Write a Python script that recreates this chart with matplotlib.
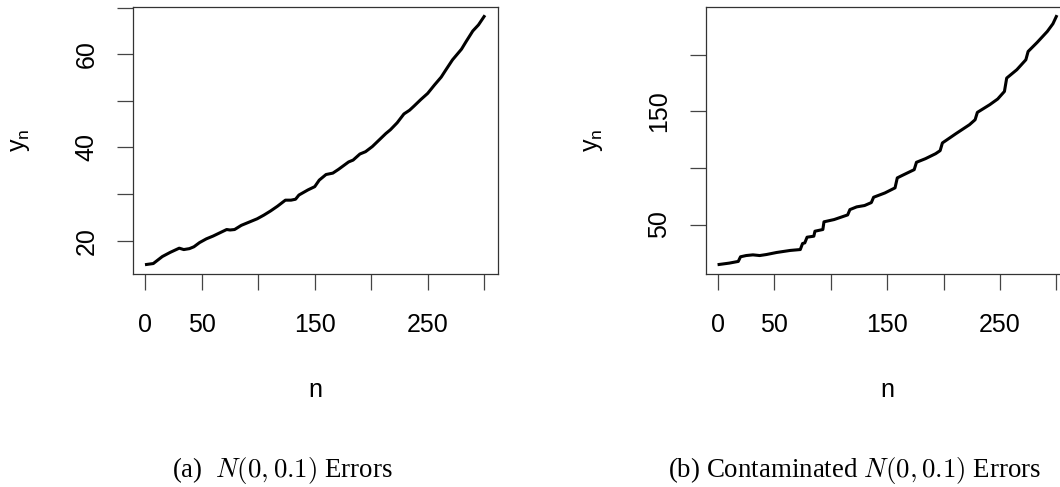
import matplotlib
matplotlib.use("Agg")
import matplotlib.pyplot as plt
import numpy as np

# ---- data ----
n_a = [1, 7, 15, 22, 30, 34, 39, 43, 48, 54, 60, 66, 72, 75, 79, 85, 93, 99, 105,
       111, 117, 124, 129, 133, 136, 144, 150, 154, 160, 166, 171, 180, 184, 190,
       195, 201, 207, 213, 217, 223, 229, 234, 238, 244, 250, 256, 262, 266, 272,
       280, 284, 290, 295, 300]
y_a = [14.9, 15.1, 16.6, 17.5, 18.4, 18.1, 18.3, 18.7, 19.6, 20.4, 21.0, 21.7, 22.4,
       22.3, 22.4, 23.3, 24.1, 24.7, 25.5, 26.4, 27.4, 28.7, 28.7, 28.9, 29.8, 30.9,
       31.6, 33.0, 34.2, 34.5, 35.3, 36.9, 37.3, 38.6, 39.1, 40.2, 41.6, 43.0, 43.8,
       45.3, 47.2, 48.0, 48.9, 50.3, 51.6, 53.4, 55.1, 56.6, 58.8, 61.1, 62.7, 65.0,
       66.3, 68.1]

n_b = [1, 10, 18, 20, 25, 31, 37, 43, 52, 64, 73, 75, 77, 79, 85, 86, 93, 94, 103,
       115, 117, 123, 130, 136, 138, 148, 157, 159, 163, 174, 176, 184, 193, 197,
       199, 211, 223, 228, 230, 241, 248, 254, 256, 265, 273, 275, 283, 292, 297, 300]
y_b = [14.7, 15.9, 17.4, 21.5, 22.6, 23.2, 22.6, 23.5, 25.3, 27.1, 27.9, 33.2, 33.8,
       38.8, 39.7, 44.1, 45.6, 52.4, 54.4, 58.5, 63.2, 65.6, 66.8, 69.4, 74.1, 77.9,
       82.4, 91.2, 93.2, 98.5, 105.0, 108.2, 112.6, 115.3, 122.1, 130.3, 138.2,
       142.6, 149.1, 155.9, 160.9, 167.6, 179.4, 186.8, 195.6, 202.9, 210.9, 220.6,
       227.4, 233.8]

x_ticks = [0, 50, 100, 150, 200, 250, 300]
x_ticklabels = ["0", "50", "", "150", "", "250", ""]
ya_ticks = [20, 30, 40, 50, 60, 70]
ya_ticklabels = ["20", "", "40", "", "60", ""]
yb_ticks = [50, 100, 150, 200]
yb_ticklabels = ["50", "", "150", ""]
captions = ["(a)  $N(0, 0.1)$ Errors", "(b) Contaminated $N(0, 0.1)$ Errors"]

plt.rcParams['font.family'] = ['Liberation Sans', 'DejaVu Sans']
plt.rcParams['mathtext.fontset'] = 'cm'

W, H = 1060, 487
fig = plt.figure(figsize=(W / 100, H / 100), dpi=100)


def rlim(v):
    lo, hi = min(v), max(v)
    d = (hi - lo) * 0.04
    return lo - d, hi + d


def make_panel(rect, n, y, yt, ytl, ylab_x, cap_x, cap):
    ax = fig.add_axes(rect)
    ax.plot(n, y, color='black', lw=2.2, solid_joinstyle='round')
    ax.set_xlim(*rlim(n))
    ax.set_ylim(*rlim(y))
    ax.set_xticks(x_ticks)
    ax.set_xticklabels(x_ticklabels)
    ax.set_yticks(yt)
    ax.set_yticklabels(ytl, rotation=90, va='center')
    ax.tick_params(axis='both', direction='out', length=11.7, width=0.9,
                   color='#444444', labelsize=18)
    ax.tick_params(axis='x', pad=16)
    ax.tick_params(axis='y', pad=13)
    for s in ax.spines.values():
        s.set_linewidth(0.9)
        s.set_color('#333333')
    # axis labels
    cx = rect[0] + rect[2] / 2
    fig.text(cx, 1 - 396.7 / H, 'n', ha='center', va='baseline', fontsize=18)
    fig.text(ylab_x / W, 1 - 140 / H, r'$\mathregular{y_n}$', ha='center',
             va='center', rotation=90, fontsize=18)
    fig.text(cap_x / W, 1 - 470 / H, cap, ha='center', va='center',
             fontsize=19.4, family=['Liberation Serif', 'DejaVu Serif'])
    return ax


top = 6.6
bot = 274.4
make_panel([133.0 / W, 1 - bot / H, (497.6 - 133.0) / W, (bot - top) / H],
           n_a, y_a, ya_ticks, ya_ticklabels, 20, 282, captions[0])
make_panel([705.6 / W, 1 - bot / H, (1069.8 - 705.6) / W, (bot - top) / H],
           n_b, y_b, yb_ticks, yb_ticklabels, 593, 855, captions[1])

fig.savefig('out.png', dpi=100)
